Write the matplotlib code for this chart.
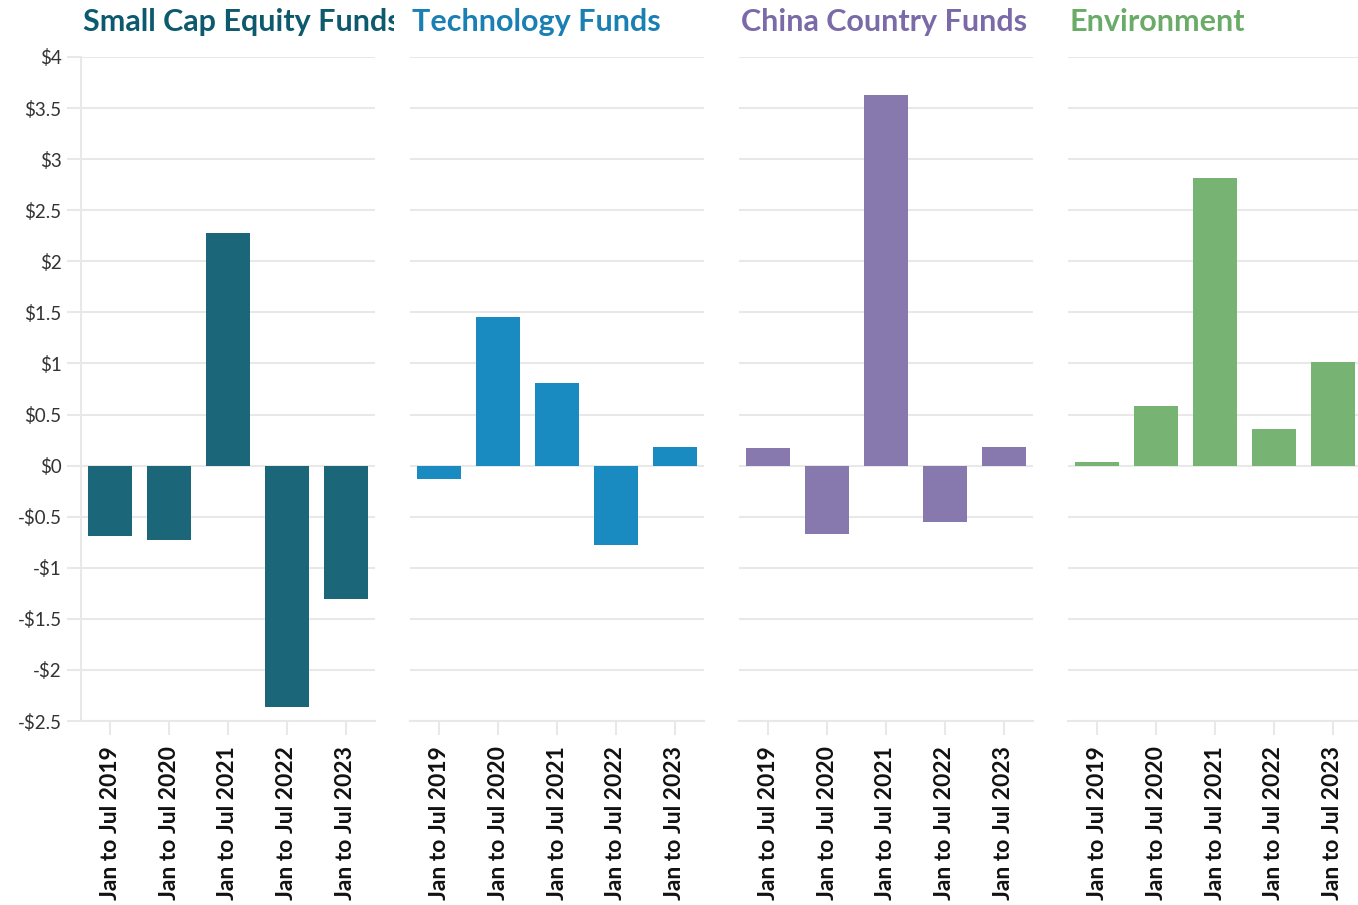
import matplotlib
matplotlib.use('Agg')
import matplotlib.pyplot as plt
from matplotlib.transforms import Bbox, TransformedBbox
import numpy as np

# ── Data ──────────────────────────────────────────────────────
periods = ['Jan to Jul 2019', 'Jan to Jul 2020', 'Jan to Jul 2021',
           'Jan to Jul 2022', 'Jan to Jul 2023']
fund_names = ['Small Cap Equity Funds', 'Technology Funds',
              'China Country Funds', 'Environment']
small_cap   = [-0.69, -0.73, 2.28, -2.36, -1.31]
technology  = [-0.13, 1.45, 0.81, -0.78, 0.18]
china       = [0.17, -0.67, 3.63, -0.55, 0.18]
environment = [0.04, 0.58, 2.82, 0.36, 1.01]
y_ticks = [4, 3.5, 3, 2.5, 2, 1.5, 1, 0.5, 0, -0.5, -1, -1.5, -2, -2.5]

series = [small_cap, technology, china, environment]
bar_colors   = ['#1b6678', '#1a8bc0', '#8779ae', '#77b474']
title_colors = ['#0d5a6e', '#1a80b4', '#7a6aa8', '#6aab67']

plt.rcParams['font.family'] = ['Lato', 'DejaVu Sans']

W, H = 1358, 905
fig = plt.figure(figsize=(W / 100, H / 100), dpi=100)

def money(v):
    s = f'{abs(v):g}'
    return ('-$' if v < 0 else '$') + s

grid_c = '#e8e8e8'
for i, (vals, name) in enumerate(zip(series, fund_names)):
    left = 81 + i * 329
    ax = fig.add_axes([left / W, 1 - 721 / H, 294 / W, 664 / H])
    x = np.arange(len(periods))
    ax.bar(x, vals, width=0.75, color=bar_colors[i], zorder=3)
    ax.set_xlim(-0.5, len(periods) - 0.5)
    ax.set_ylim(-2.5, 4)
    ax.set_yticks(y_ticks)
    ax.grid(axis='y', color=grid_c, linewidth=1.5, zorder=0)
    ax.set_xticks(x)
    ax.set_xticklabels(periods, rotation=90, fontsize=16.5, fontweight='bold',
                       color='#111111')
    ax.tick_params(axis='x', length=10, color=grid_c, width=1.5, pad=8)
    for s in ['top', 'right']:
        ax.spines[s].set_visible(False)
    ax.spines['bottom'].set_color(grid_c)
    ax.spines['bottom'].set_linewidth(1.5)
    if i == 0:
        ax.spines['left'].set_color(grid_c)
        ax.spines['left'].set_linewidth(1.5)
        ax.set_yticklabels([money(v) for v in y_ticks], fontsize=13.5,
                           color='#333333')
        ax.tick_params(axis='y', length=10, color=grid_c, width=1.5, pad=4)
    else:
        ax.spines['left'].set_visible(False)
        ax.tick_params(axis='y', length=0, labelleft=False)
    t = ax.text(0.006, 1.053, name, transform=ax.transAxes, fontsize=22,
                fontweight='bold', color=title_colors[i], ha='left',
                va='center')
    clip = Bbox([[(left - 10) / W, 0], [(left + 313) / W, 1]])
    t.set_clip_box(TransformedBbox(clip, fig.transFigure))
    t.set_clip_on(True)

fig.savefig('out.png', dpi=100, facecolor='white')
